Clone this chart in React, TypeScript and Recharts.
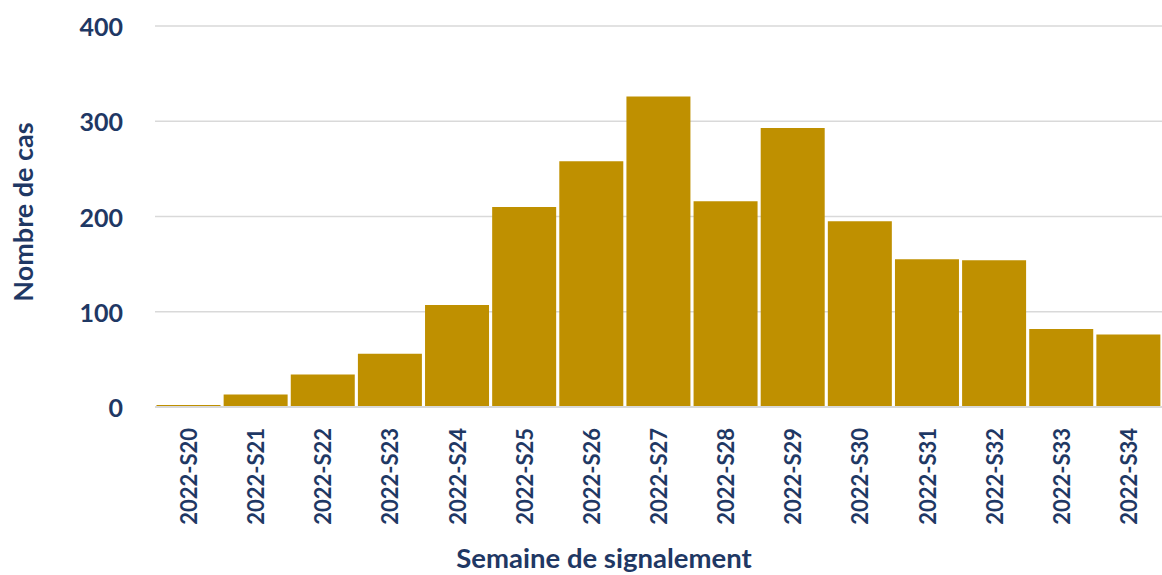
import { BarChart, Bar, XAxis, YAxis, CartesianGrid, Label } from "recharts";

const weeks = [
  "2022-S20", "2022-S21", "2022-S22", "2022-S23", "2022-S24",
  "2022-S25", "2022-S26", "2022-S27", "2022-S28", "2022-S29",
  "2022-S30", "2022-S31", "2022-S32", "2022-S33", "2022-S34",
];
const cases = [2, 13, 34, 56, 107, 210, 258, 326, 216, 293, 195, 155, 154, 82, 76];
const yTicks = [0, 100, 200, 300, 400];

const data = weeks.map((week, i) => ({ week, cases: cases[i] }));

const NAVY = "#1F3864";
const GOLD = "#BF9000";
const FONT = "Lato, 'Open Sans', sans-serif";

const YTick = ({ x, y, payload }: any) => (
  <text x={x - 2} y={y} textAnchor="end" dominantBaseline="central"
    fill={NAVY} fontFamily={FONT} fontWeight={700} fontSize={25}>
    {payload.value}
  </text>
);

const XTick = ({ x, y, payload }: any) => (
  <text x={x} y={y + 13} textAnchor="end" dominantBaseline="central"
    transform={`rotate(-90 ${x} ${y + 13})`}
    fill={NAVY} fontFamily={FONT} fontWeight={700} fontSize={22}>
    {payload.value}
  </text>
);

export default function App() {
  return (
    <div style={{ position: "absolute", left: 0, top: 0 }}>
      <BarChart width={1162} height={575} data={data}
        margin={{ top: 26, right: 0, bottom: 0, left: 0 }}
        barCategoryGap={1.5}>
        <CartesianGrid vertical={false} stroke="#D9D9D9" strokeWidth={1.5} />
        <XAxis dataKey="week" height={168} interval={0} tickLine={false}
          axisLine={{ stroke: "#D9D9D9", strokeWidth: 2 }} tick={<XTick />}>
          <Label content={() => (
            <text x={604} y={557} textAnchor="middle" dominantBaseline="central"
              fill={NAVY} fontFamily={FONT} fontWeight={700} fontSize={27.5}>
              Semaine de signalement
            </text>
          )} />
        </XAxis>
        <YAxis width={155} domain={[0, 400]} ticks={yTicks} axisLine={false}
          tickLine={false} tickMargin={24} tick={<YTick />}>
          <Label content={() => (
            <text x={22} y={212} textAnchor="middle" dominantBaseline="central"
              transform="rotate(-90 22 212)"
              fill={NAVY} fontFamily={FONT} fontWeight={700} fontSize={27}>
              Nombre de cas
            </text>
          )} />
        </YAxis>
        <Bar dataKey="cases" fill={GOLD} isAnimationActive={false} />
      </BarChart>
    </div>
  );
}
